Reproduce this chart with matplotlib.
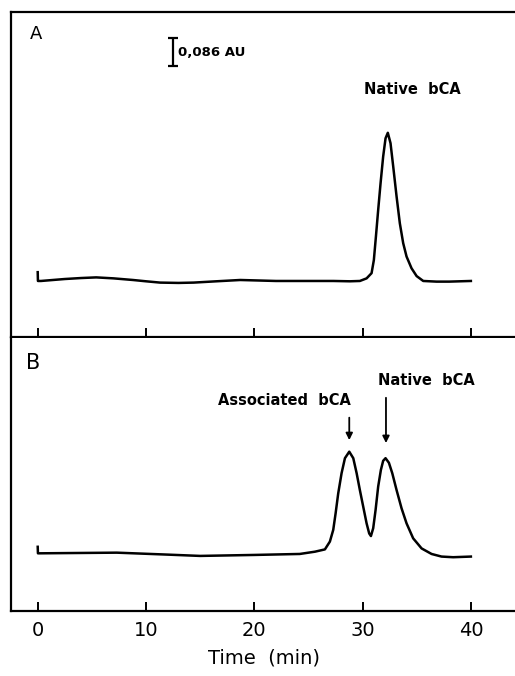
import matplotlib
matplotlib.use('Agg')
import matplotlib.pyplot as plt

# Chromatogram A: native bCA only (time in min, absorbance in AU above baseline)
time_a = [0.0, 0.02, 0.3, 2.5, 4.0, 5.4, 7.0, 8.8, 10.0, 11.3, 13.0, 14.4, 16.5, 18.7,
          22.0, 27.3, 28.83, 29.75, 30.37, 30.83, 31.04, 31.23, 31.44, 31.66, 31.9,
          32.12, 32.33, 32.58, 32.83, 33.14, 33.44, 33.75, 34.06, 34.52, 34.99, 35.6,
          36.83, 38.0, 40.0]
abs_a = [0.027, 0.0, 0.0, 0.006, 0.009, 0.011, 0.008, 0.003, -0.001, -0.005, -0.006,
         -0.005, -0.001, 0.003, 0.0, 0.0, -0.001, 0.0, 0.008, 0.024, 0.064, 0.136,
         0.218, 0.300, 0.382, 0.438, 0.455, 0.423, 0.351, 0.259, 0.177, 0.116, 0.075,
         0.039, 0.015, 0.0, -0.002, -0.002, 0.0]

# Chromatogram B: associated + native bCA
time_b = [0.0, 0.02, 0.2, 7.3, 12.0, 15.0, 20.0, 24.2, 25.6, 26.52, 26.98, 27.29,
          27.51, 27.75, 28.06, 28.37, 28.77, 29.14, 29.45, 29.75, 30.06, 30.37, 30.61,
          30.77, 30.98, 31.2, 31.44, 31.69, 31.9, 32.12, 32.43, 32.74, 33.14, 33.6,
          34.06, 34.67, 35.45, 36.37, 37.29, 38.36, 40.0]
abs_b = [0.020, 0.0, 0.0, 0.002, -0.004, -0.008, -0.005, -0.002, 0.005, 0.012, 0.036,
         0.072, 0.123, 0.184, 0.246, 0.292, 0.312, 0.292, 0.246, 0.194, 0.143, 0.092,
         0.061, 0.053, 0.077, 0.133, 0.205, 0.256, 0.284, 0.292, 0.278, 0.246, 0.194,
         0.138, 0.092, 0.046, 0.015, -0.002, -0.010, -0.012, -0.010]

scale_bar = 0.086  # AU
x_ticks = [0, 10, 20, 30, 40]

fig = plt.figure(figsize=(5.15, 6.76), dpi=100)
ax1 = fig.add_axes([0.0214, 0.5015, 0.9825, 0.4808])
ax2 = fig.add_axes([0.0214, 0.0962, 0.9825, 0.4038])

lw = 1.8
for ax in (ax1, ax2):
    ax.set_xlim(-2.465, 44.26)
    ax.set_xticks(x_ticks)
    ax.set_yticks([])
    ax.tick_params(axis='x', direction='in', length=6.5, width=1.4, pad=7, labelsize=14)
    ax.spines['right'].set_visible(False)
    for s in ('left', 'top', 'bottom'):
        ax.spines[s].set_linewidth(1.6)

ax1.plot(time_a, abs_a, color='black', lw=lw, solid_joinstyle='round')
ax1.set_ylim(-0.172, 0.826)
ax1.tick_params(axis='x', labelbottom=False)
ax1.text(0.049, 0.932, 'A', transform=ax1.transAxes, fontsize=13, ha='center', va='center')
ax1.text(34.56, 0.587, 'Native  bCA', fontsize=10.5, fontweight='bold', ha='center', va='center')

# scale bar
ax1.errorbar([12.46], [0.703], yerr=scale_bar / 2, color='black', capsize=3.5,
             elinewidth=1.6, capthick=1.6)
ax1.text(13.0, 0.700, '0,086 AU', fontsize=9.5, fontweight='bold', ha='left', va='center')

ax2.plot(time_b, abs_b, color='black', lw=lw, solid_joinstyle='round')
ax2.set_ylim(-0.177, 0.661)
ax2.spines['top'].set_visible(False)
ax2.text(0.043, 0.908, 'B', transform=ax2.transAxes, fontsize=15, ha='center', va='center')
ax2.annotate('', xy=(28.77, 0.339), xytext=(28.77, 0.425),
             arrowprops=dict(arrowstyle='-|>', color='black', lw=1.3, mutation_scale=10))
ax2.annotate('', xy=(32.16, 0.330), xytext=(32.16, 0.486),
             arrowprops=dict(arrowstyle='-|>', color='black', lw=1.3, mutation_scale=10))
ax2.text(22.8, 0.468, 'Associated  bCA', fontsize=10.5, fontweight='bold', ha='center', va='center')
ax2.text(35.85, 0.532, 'Native  bCA', fontsize=10.5, fontweight='bold', ha='center', va='center')
ax2.set_xlabel('Time  (min)', fontsize=14, labelpad=6)

fig.savefig('out.png', dpi=100)
